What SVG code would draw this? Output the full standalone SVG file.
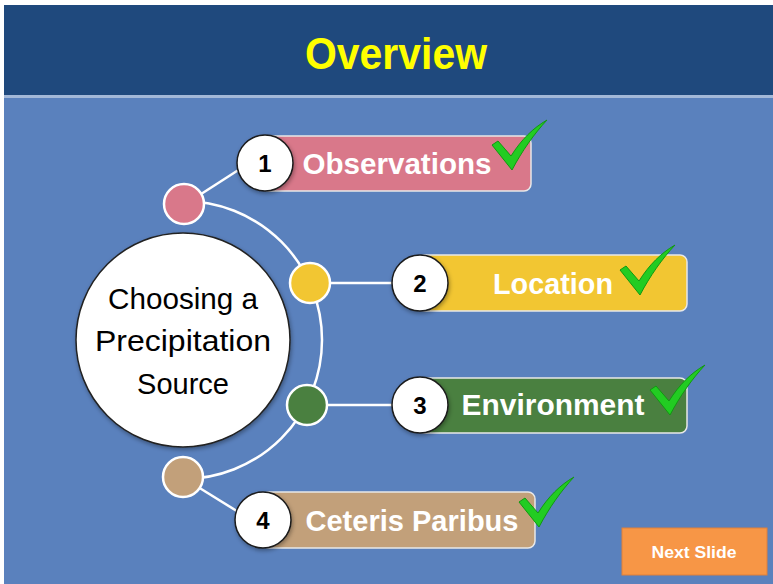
<svg xmlns="http://www.w3.org/2000/svg" width="773" height="584" viewBox="0 0 773 584">
<style>
.pill{stroke:#E8E8E8;stroke-width:1.5}
.num{fill:#fff;stroke:#1a1a1a;stroke-width:1.5}
.numt{font-family:"Liberation Sans",Arial,sans-serif;font-weight:bold;font-size:24px;fill:#000;text-anchor:middle}
.lab{font-family:"Liberation Sans",Arial,sans-serif;font-weight:bold;font-size:29px;fill:#fff;text-anchor:middle}
.dot{stroke:#fff;stroke-width:2.5}
.conn{stroke:#fff;stroke-width:2.5;fill:none}
.ctr{font-family:"Liberation Sans",Arial,sans-serif;font-size:29px;fill:#000;text-anchor:middle}
.chk{fill:#22CC22;stroke:#119911;stroke-width:1}
</style>
<defs>
<filter id="sh" x="-20%" y="-20%" width="140%" height="140%">
<feDropShadow dx="1" dy="2" stdDeviation="2" flood-color="#000" flood-opacity="0.35"/>
</filter>
<path id="check" d="M0,25 L6,21 L19,36 C29,20 41,8 55,0 C42,14 30,31 20,50 Z"/>
</defs>
<rect x="0" y="0" width="773" height="584" fill="#fff"/>
<rect x="4" y="5" width="769" height="579" fill="#5A81BD"/>
<rect x="4" y="5" width="769" height="90" fill="#1F497D"/>
<rect x="4" y="95" width="769" height="3" fill="#A3B8D8"/>
<text x="396" y="69" font-family="Liberation Sans,Arial,sans-serif" font-weight="bold" font-size="44" fill="#FFFF00" text-anchor="middle" textLength="182" lengthAdjust="spacingAndGlyphs">Overview</text>

<g id="connectors">
<path class="conn" d="M 183 201 A 139 139 0 0 1 183 479"/>
<line class="conn" x1="198" y1="196" x2="240" y2="169"/>
<line class="conn" x1="328" y1="283" x2="394" y2="283"/>
<line class="conn" x1="325" y1="405" x2="394" y2="405"/>
<line class="conn" x1="198" y1="487" x2="240" y2="513"/>
</g>

<g id="center">
<circle cx="183" cy="340" r="107" fill="#fff" stroke="#222" stroke-width="1.5" filter="url(#sh)"/>
<text class="ctr" x="183" y="309" textLength="150" lengthAdjust="spacingAndGlyphs">Choosing a</text>
<text class="ctr" x="183" y="351" textLength="176" lengthAdjust="spacingAndGlyphs">Precipitation</text>
<text class="ctr" x="183" y="394">Source</text>
</g>

<g id="dot1"><circle class="dot" cx="184" cy="204" r="20" fill="#D9788A"/></g>
<g id="dot2"><circle class="dot" cx="310" cy="283" r="20" fill="#F2C632"/></g>
<g id="dot3"><circle class="dot" cx="307" cy="405" r="20" fill="#4A8040"/></g>
<g id="dot4"><circle class="dot" cx="183" cy="477" r="20" fill="#C2A07A"/></g>

<g id="item1">
<rect class="pill" x="262" y="136" width="269" height="55" rx="7" fill="#D9788A"/>
<circle class="num" cx="265" cy="163" r="28" filter="url(#sh)"/>
<text class="numt" x="265" y="172">1</text>
<text class="lab" x="397" y="174" textLength="189" lengthAdjust="spacingAndGlyphs">Observations</text>
<use href="#check" class="chk" x="492" y="120"/>
</g>

<g id="item2">
<rect class="pill" x="418" y="255" width="269" height="56" rx="7" fill="#F2C632"/>
<circle class="num" cx="420" cy="283" r="28" filter="url(#sh)"/>
<text class="numt" x="420" y="292">2</text>
<text class="lab" x="553" y="294" textLength="120" lengthAdjust="spacingAndGlyphs">Location</text>
<use href="#check" class="chk" x="620" y="245"/>
</g>

<g id="item3">
<rect class="pill" x="418" y="378" width="269" height="55" rx="7" fill="#4A8040"/>
<circle class="num" cx="420" cy="405" r="28" filter="url(#sh)"/>
<text class="numt" x="420" y="414">3</text>
<text class="lab" x="553" y="415" textLength="183" lengthAdjust="spacingAndGlyphs">Environment</text>
<use href="#check" class="chk" x="650" y="365"/>
</g>

<g id="item4">
<rect class="pill" x="262" y="492" width="273" height="56" rx="7" fill="#C2A07A"/>
<circle class="num" cx="263" cy="520" r="28" filter="url(#sh)"/>
<text class="numt" x="263" y="529">4</text>
<text class="lab" x="412" y="531" textLength="213" lengthAdjust="spacingAndGlyphs">Ceteris Paribus</text>
<use href="#check" class="chk" x="519" y="477"/>
</g>

<g id="next">
<rect x="622" y="528" width="145" height="47" fill="#F79646" stroke="#E0803A" stroke-width="1"/>
<text x="694" y="558" font-family="Liberation Sans,Arial,sans-serif" font-weight="bold" font-size="17" fill="#fff" text-anchor="middle" textLength="85" lengthAdjust="spacingAndGlyphs">Next Slide</text>
</g>
</svg>
